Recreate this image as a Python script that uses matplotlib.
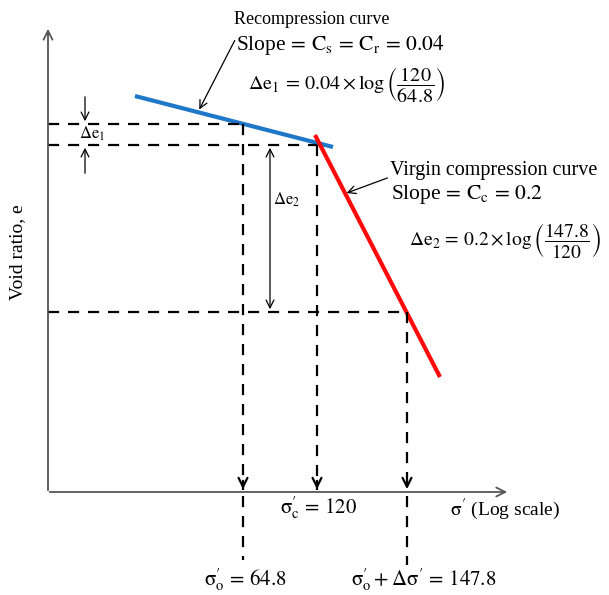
import matplotlib
matplotlib.use("Agg")
import matplotlib.pyplot as plt

plt.rcParams['font.family'] = ['Liberation Serif', 'DejaVu Serif']
plt.rcParams['mathtext.fontset'] = 'stix'

# schematic positions (diagram units, y grows downward)
sigma_vals = [64.8, 120, 147.8]
sigma_x = [243, 317, 407]          # positions of the three stresses on the log axis
void_y = [124, 145, 312]           # void ratios e_o, e_c, e_final
axis_origin = (48, 492)
axis_end = (510, 26)

# curves
recomp_x = [135, 333]
recomp_y = [96, 147]
virgin_x = [315, 440]
virgin_y = [135, 377]

fig = plt.figure(figsize=(6.09, 5.95), dpi=100)
ax = fig.add_axes([0, 0, 1, 1])
ax.set_xlim(0, 609)
ax.set_ylim(595, 0)
ax.axis('off')

ox, oy = axis_origin
arrow = dict(arrowstyle='->', color='#555555', lw=1.3, mutation_scale=16)
ax.annotate('', xy=(ox, axis_end[1]), xytext=(ox, oy + 1), arrowprops=arrow)
ax.annotate('', xy=(axis_end[0], oy), xytext=(ox - 1, oy), arrowprops=arrow)

# curves
ax.plot(recomp_x, recomp_y, color='#1f77c8', lw=3, solid_capstyle='butt')
ax.plot(virgin_x, virgin_y, color='#ff0a0a', lw=3, solid_capstyle='butt')

dash = dict(color='black', lw=1.6, linestyle=(0, (5, 4)))
# horizontal dashed lines to the void ratio axis
for xs, ys in zip(sigma_x, void_y):
    ax.plot([ox, xs], [ys, ys], **dash)
# vertical dashed lines down to the stress axis
for xs, ys in zip(sigma_x, void_y):
    ax.plot([xs, xs], [ys, oy - 2], **dash)
    ax.annotate('', xy=(xs, oy), xytext=(xs, oy - 14),
                arrowprops=dict(arrowstyle='->', color='black', lw=1.6, mutation_scale=16))
# dashed extensions below the axis
for xs, yend in zip([sigma_x[0], sigma_x[2]], [560, 565]):
    ax.plot([xs, xs], [oy + 4, yend], **dash)

# delta e1 arrows
thin = dict(arrowstyle='->', color='black', lw=0.9, mutation_scale=14)
ax.annotate('', xy=(85, void_y[0]), xytext=(85, 94), arrowprops=thin)
ax.annotate('', xy=(85, void_y[1]), xytext=(85, 176), arrowprops=thin)
ax.text(92, 134, r'$\Delta\mathrm{e}_1$', fontsize=12, ha='center', va='center')

# delta e2 double arrow
ax.annotate('', xy=(270, void_y[1]), xytext=(270, void_y[2]),
            arrowprops=dict(arrowstyle='<->', color='black', lw=0.9, mutation_scale=14))
ax.text(273, 200, r'$\Delta\mathrm{e}_2$', fontsize=12, ha='left', va='center')

# recompression label
ax.text(312, 19, 'Recompression curve', fontsize=13, ha='center', va='center')
ax.text(236, 45, r'Slope$\,=\,\mathrm{C_s}\,=\,\mathrm{C_r}\,=\,0.04$', fontsize=15.5, ha='left', va='center')
ax.text(248, 85, r'$\Delta\mathrm{e}_1\,=\,0.04\times\log\left(\dfrac{120}{64.8}\right)$',
        fontsize=14.5, ha='left', va='center')
ax.annotate('', xy=(198, 112), xytext=(236, 38),
            arrowprops=dict(arrowstyle='->', color='black', lw=0.9, mutation_scale=14))

# virgin compression label
ax.text(390, 170, 'Virgin compression curve', fontsize=14.5, ha='left', va='center')
ax.text(391, 195, r'Slope$\,=\,\mathrm{C_c}\,=\,0.2$', fontsize=15.5, ha='left', va='center')
ax.text(409, 240, r'$\Delta\mathrm{e}_2\,=\,0.2\times\log\left(\dfrac{147.8}{120}\right)$',
        fontsize=14, ha='left', va='center')
ax.annotate('', xy=(344, 194), xytext=(390, 177),
            arrowprops=dict(arrowstyle='->', color='black', lw=0.9, mutation_scale=14))

# axis labels
sig = r"\mathrm{\sigma}^{\prime}"
ax.text(18, 252, 'Void ratio, e', fontsize=14, rotation=90, ha='center', va='center')
ax.text(450, 509, "$%s$ (Log scale)" % sig, fontsize=14, ha='left', va='center')

# stress labels
ax.text(sigma_x[1] + 2, 508, r"$%s_{\mathrm{c}}\,=\,%g$" % (sig, sigma_vals[1]),
        fontsize=15, ha='center', va='center')
ax.text(sigma_x[0] + 2, 580, r"$%s_{\mathrm{o}}\,=\,%g$" % (sig, sigma_vals[0]),
        fontsize=15, ha='center', va='center')
ax.text(sigma_x[2] + 17, 580, r"$%s_{\mathrm{o}}+\Delta%s\,=\,%g$" % (sig, sig, sigma_vals[2]),
        fontsize=15, ha='center', va='center')

fig.savefig('out.png', dpi=100)
